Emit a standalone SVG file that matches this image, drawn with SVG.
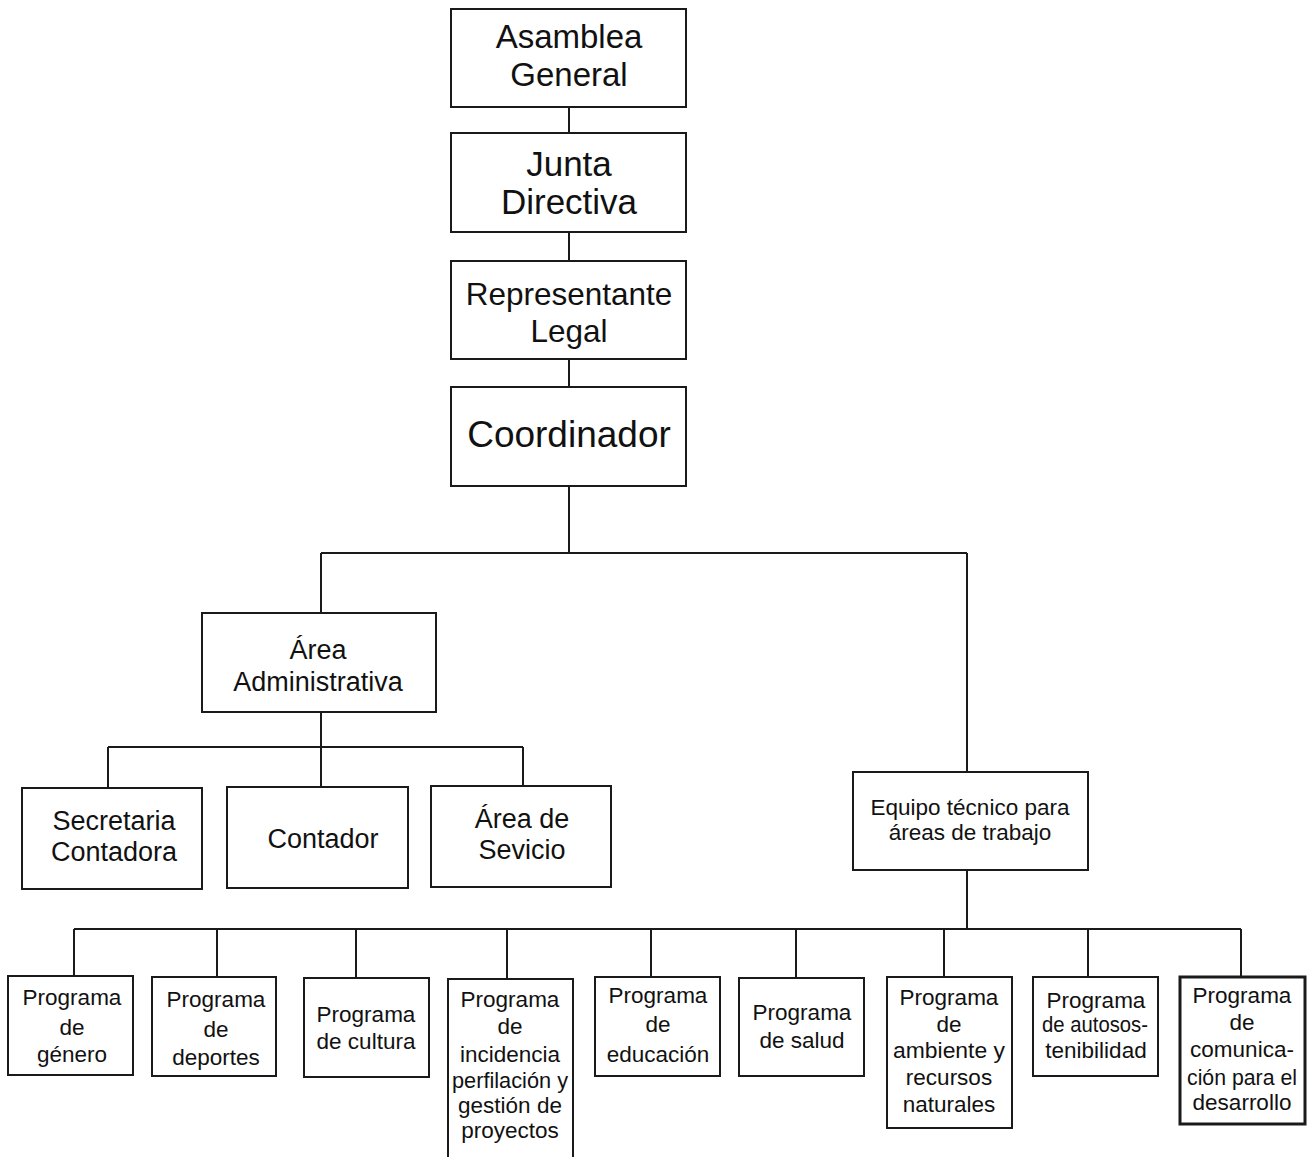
<svg xmlns="http://www.w3.org/2000/svg" width="1314" height="1157" viewBox="0 0 1314 1157">
<style>
.box{fill:#fff;stroke:#1a1a1a;stroke-width:2}
.thick{stroke-width:3}
.ln{stroke:#1a1a1a;stroke-width:2;fill:none}
text{font-family:"Liberation Sans",Arial,sans-serif;fill:#111;text-anchor:middle}
.t1{font-size:33px}
.t2{font-size:35px}
.t3{font-size:31.5px}
.t4{font-size:37px}
.t5{font-size:27px}
.t6{font-size:22.5px}
.t7{font-size:22.5px}
</style>
<rect width="1314" height="1157" fill="#fff"/>
<g id="connectors">
<path class="ln" d="M569 107V133M569 232V261M569 359V387M569 486V553M321 553H967M321 553V613M967 553V772"/>
<path class="ln" d="M321 712V747M108 747H523M108 747V788M321 747V787M523 747V786"/>
<path class="ln" d="M967 870V929M74 929H1241M74 929V976M217 929V977M356 929V978M507 929V978M651 929V977M796 929V977M944 929V977M1088 929V977M1241 929V977"/>
</g>
<g id="asamblea"><rect class="box" x="451" y="9" width="235" height="98"/><text class="t1" x="569" y="48">Asamblea</text><text class="t1" x="569" y="86">General</text></g>
<g id="junta"><rect class="box" x="451" y="133" width="235" height="99"/><text class="t2" x="569" y="176">Junta</text><text class="t2" x="569" y="214">Directiva</text></g>
<g id="representante"><rect class="box" x="451" y="261" width="235" height="98"/><text class="t3" x="569" y="305">Representante</text><text class="t3" x="569" y="342">Legal</text></g>
<g id="coordinador"><rect class="box" x="451" y="387" width="235" height="99"/><text class="t4" x="569" y="447">Coordinador</text></g>
<g id="area-administrativa"><rect class="box" x="202" y="613" width="234" height="99"/><text class="t5" x="318" y="659">Área</text><text class="t5" x="318" y="691">Administrativa</text></g>
<g id="secretaria"><rect class="box" x="22" y="788" width="180" height="101"/><text class="t5" x="114" y="830">Secretaria</text><text class="t5" x="114" y="861">Contadora</text></g>
<g id="contador"><rect class="box" x="227" y="787" width="181" height="101"/><text class="t5" x="323" y="848">Contador</text></g>
<g id="area-servicio"><rect class="box" x="431" y="786" width="180" height="101"/><text class="t5" x="522" y="828">Área de</text><text class="t5" x="522" y="859">Sevicio</text></g>
<g id="equipo"><rect class="box" x="853" y="772" width="235" height="98"/><text class="t6" x="970" y="815">Equipo técnico para</text><text class="t6" x="970" y="840">áreas de trabajo</text></g>
<g id="p-genero"><rect class="box" x="8" y="976" width="125" height="99"/><text class="t7" x="72" y="1005">Programa</text><text class="t7" x="72" y="1035">de</text><text class="t7" x="72" y="1062">género</text></g>
<g id="p-deportes"><rect class="box" x="152" y="977" width="124" height="99"/><text class="t7" x="216" y="1007">Programa</text><text class="t7" x="216" y="1037">de</text><text class="t7" x="216" y="1065">deportes</text></g>
<g id="p-cultura"><rect class="box" x="304" y="978" width="125" height="99"/><text class="t7" x="366" y="1022">Programa</text><text class="t7" x="366" y="1049">de cultura</text></g>
<g id="p-incidencia"><rect class="box" x="448" y="979" width="125" height="190"/><text class="t7" x="510" y="1007">Programa</text><text class="t7" x="510" y="1034">de</text><text class="t7" x="510" y="1062">incidencia</text><text class="t7" x="510" y="1088" textLength="116" lengthAdjust="spacingAndGlyphs">perfilación y</text><text class="t7" x="510" y="1113">gestión de</text><text class="t7" x="510" y="1138">proyectos</text></g>
<g id="p-educacion"><rect class="box" x="595" y="977" width="125" height="99"/><text class="t7" x="658" y="1003">Programa</text><text class="t7" x="658" y="1032">de</text><text class="t7" x="658" y="1062">educación</text></g>
<g id="p-salud"><rect class="box" x="739" y="978" width="125" height="98"/><text class="t7" x="802" y="1020">Programa</text><text class="t7" x="802" y="1048">de salud</text></g>
<g id="p-ambiente"><rect class="box" x="887" y="977" width="125" height="151"/><text class="t7" x="949" y="1005">Programa</text><text class="t7" x="949" y="1032">de</text><text class="t7" x="949" y="1058" textLength="112" lengthAdjust="spacingAndGlyphs">ambiente y</text><text class="t7" x="949" y="1085">recursos</text><text class="t7" x="949" y="1112">naturales</text></g>
<g id="p-autosostenibilidad"><rect class="box" x="1033" y="977" width="125" height="99"/><text class="t7" x="1096" y="1008">Programa</text><text class="t7" x="1095" y="1032" textLength="106" lengthAdjust="spacingAndGlyphs">de autosos-</text><text class="t7" x="1096" y="1058">tenibilidad</text></g>
<g id="p-comunicacion"><rect class="box thick" x="1180" y="977" width="125" height="147"/><text class="t7" x="1242" y="1003">Programa</text><text class="t7" x="1242" y="1030">de</text><text class="t7" x="1242" y="1057">comunica-</text><text class="t7" x="1242" y="1085" textLength="110" lengthAdjust="spacingAndGlyphs">ción para el</text><text class="t7" x="1242" y="1110">desarrollo</text></g>
</svg>
